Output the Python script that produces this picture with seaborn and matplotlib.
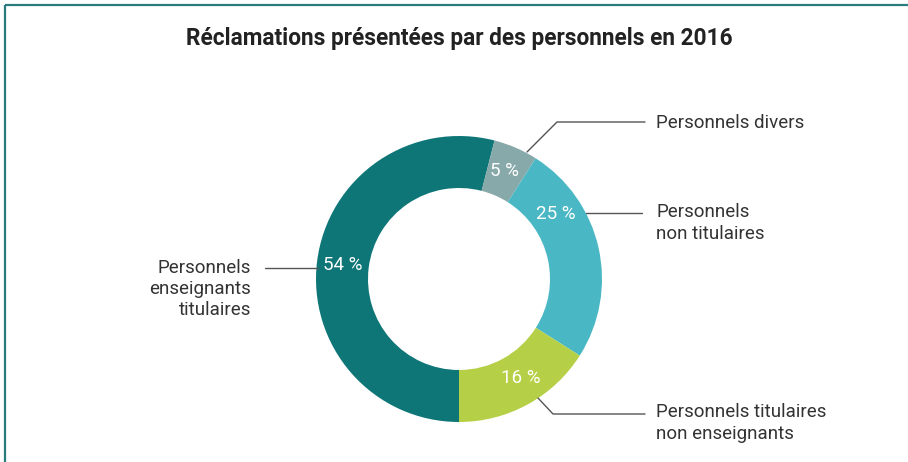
import matplotlib
matplotlib.use("Agg")
import matplotlib.pyplot as plt
import seaborn as sns
import numpy as np

# data
categories = ["Personnels\nenseignants\ntitulaires", "Personnels divers",
              "Personnels\nnon titulaires", "Personnels titulaires\nnon enseignants"]
shares = [54, 5, 25, 16]
pct_labels = ["54 %", "5 %", "25 %", "16 %"]
colors = ["#0f7678", "#88a9aa", "#4ab7c5", "#b5d046"]
title = "Réclamations présentées par des personnels en 2016"

W, H = 908, 462


def py(y):
    # pixel row (from top) to data y (from bottom)
    return H - y


sns.set_theme(style="white")
plt.rcParams["font.family"] = ["Roboto", "DejaVu Sans"]

fig = plt.figure(figsize=(W / 100, H / 100), dpi=100)
ax = fig.add_axes([0, 0, 1, 1])

cx, cy, r_out, r_in = 459, py(279), 143, 91
wedges, _ = ax.pie(shares, colors=colors, startangle=270, counterclock=False,
                   center=(cx, cy), radius=r_out,
                   wedgeprops=dict(width=r_out - r_in, linewidth=0))

ax.set_xlim(0, W)
ax.set_ylim(0, H)
ax.set_aspect("equal")
ax.axis("off")

# percentage labels on the ring
label_angles = [173, 67, 34, -58]
r_mid = (r_out + r_in) / 2
for lab, ang in zip(pct_labels, label_angles):
    a = np.deg2rad(ang)
    ax.text(cx + r_mid * np.cos(a), cy + r_mid * np.sin(a), lab,
            color="white", fontsize=13.5, ha="center", va="center")

# leader lines + category labels
line_kw = dict(color="#555555", lw=1)
txt_kw = dict(color="#333333", fontsize=13.5, va="center", linespacing=1.22)

ax.plot([527, 557, 645], [py(152), py(122), py(122)], **line_kw)
ax.text(656, py(123), categories[1], ha="left", **txt_kw)

ax.plot([586, 642], [py(213), py(213)], **line_kw)
ax.text(656, py(223), categories[2], ha="left", **txt_kw)

ax.plot([265, 318], [py(268), py(268)], **line_kw)
ax.text(251, py(289), categories[0], ha="right", multialignment="right", **txt_kw)

ax.plot([538, 553, 645], [py(398), py(414), py(414)], **line_kw)
ax.text(656, py(423), categories[3], ha="left", **txt_kw)

# title
ax.text(459, py(38), title, ha="center", va="center", fontsize=16.3,
        fontweight="bold", color="#222222")

# frame lines (top and left)
ax.plot([5, W], [py(5), py(5)], color="#2a7b7c", lw=1.6, solid_capstyle="butt")
ax.plot([5, 5], [py(5), 0], color="#2a7b7c", lw=1.6, solid_capstyle="butt")

fig.savefig("out.png", dpi=100)
